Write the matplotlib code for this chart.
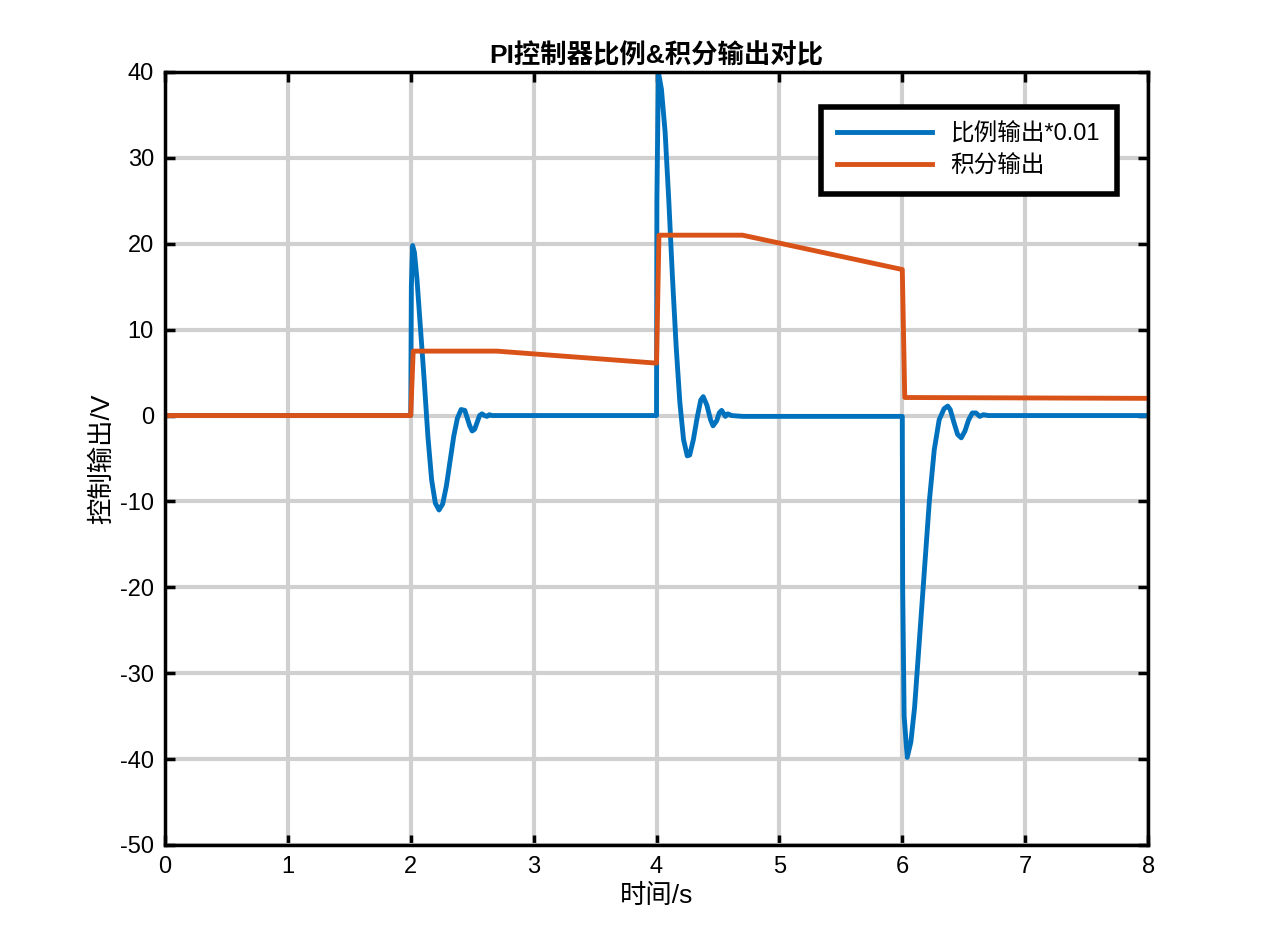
import matplotlib
matplotlib.use("Agg")
import matplotlib.pyplot as plt

plt.rcParams['font.family'] = ['Liberation Sans', 'Noto Sans CJK SC', 'DejaVu Sans']
plt.rcParams['axes.unicode_minus'] = False

# proportional output * 0.01 (time, value)
p_t = [0, 2.0, 2.005, 2.015, 2.03, 2.05, 2.08, 2.11, 2.14, 2.17, 2.2, 2.23, 2.26, 2.29, 2.32, 2.35, 2.38, 2.41, 2.44, 2.46, 2.48, 2.5, 2.52, 2.54, 2.56, 2.58, 2.6, 2.62, 2.64, 2.66, 2.7,
       4.0, 4.003, 4.015, 4.04, 4.07, 4.1, 4.13, 4.16, 4.19, 4.22, 4.25, 4.27, 4.3, 4.33, 4.36, 4.38, 4.41, 4.44, 4.46, 4.49, 4.51, 4.53, 4.56, 4.58, 4.61, 4.7,
       6.0, 6.003, 6.015, 6.04, 6.07, 6.1, 6.14, 6.18, 6.22, 6.26, 6.3, 6.34, 6.37, 6.39, 6.42, 6.45, 6.48, 6.51, 6.54, 6.57, 6.6, 6.63, 6.66, 6.7, 8.0]
p_v = [0, 0, 15, 19.8, 19, 16, 10, 4, -2.5, -7.5, -10.2, -11, -10.3, -8.2, -5.3, -2.4, -0.3, 0.7, 0.6, -0.3, -1.2, -1.8, -1.6, -0.8, 0.0, 0.2, 0.0, -0.1, 0.1, 0.0, 0,
       0, 25, 40, 38, 33, 25, 16, 8, 1.5, -2.8, -4.7, -4.6, -2.8, -0.3, 1.8, 2.2, 1.2, -0.5, -1.2, -0.6, 0.3, 0.6, -0.1, 0.2, 0.0, -0.1,
       -0.1, -20, -35, -39.8, -38, -34, -26, -18, -10, -4, -0.5, 0.8, 1.1, 0.7, -0.8, -2.2, -2.6, -1.8, -0.5, 0.3, 0.3, -0.1, 0.1, 0, 0]
# integral output
i_t = [0, 2.0, 2.02, 2.7, 4.0, 4.02, 4.7, 6.0, 6.02, 8.0]
i_v = [0, 0, 7.5, 7.5, 6.1, 21.0, 21.0, 17.0, 2.1, 2.0]

fig = plt.figure(figsize=(12.69, 9.51), dpi=100)
ax = fig.add_axes([0.130, 0.1115, 0.7747, 0.8128])
ax.plot(p_t, p_v, color='#0072BD', lw=3.5, label='比例输出*0.01')
ax.plot(i_t, i_v, color='#D95319', lw=3.5, label='积分输出')
ax.set_xlim(0, 8)
ax.set_ylim(-50, 40)
ax.set_xticks(range(0, 9))
ax.set_yticks(range(-50, 41, 10))
ax.grid(True, color='#d0d0d0', lw=3)
ax.set_axisbelow(True)
for s in ax.spines.values():
    s.set_linewidth(2.5)
ax.tick_params(labelsize=17, width=2.5, direction='in', length=7, top=True, right=True,
               labeltop=False, labelright=False, pad=8)
ax.set_xlabel('时间/s', fontsize=19, labelpad=4)
ax.set_ylabel('控制输出/V', fontsize=19, labelpad=4)
ax.set_title('PI控制器比例&积分输出对比', fontsize=19, fontweight='bold', pad=6)
leg = ax.legend(loc='upper right', bbox_to_anchor=(0.98, 0.97), fontsize=17, fancybox=False,
                framealpha=1, edgecolor='black', handlelength=4, borderpad=0.7, labelspacing=0.4)
leg.get_frame().set_linewidth(4)
fig.savefig('out.png', dpi=100)
